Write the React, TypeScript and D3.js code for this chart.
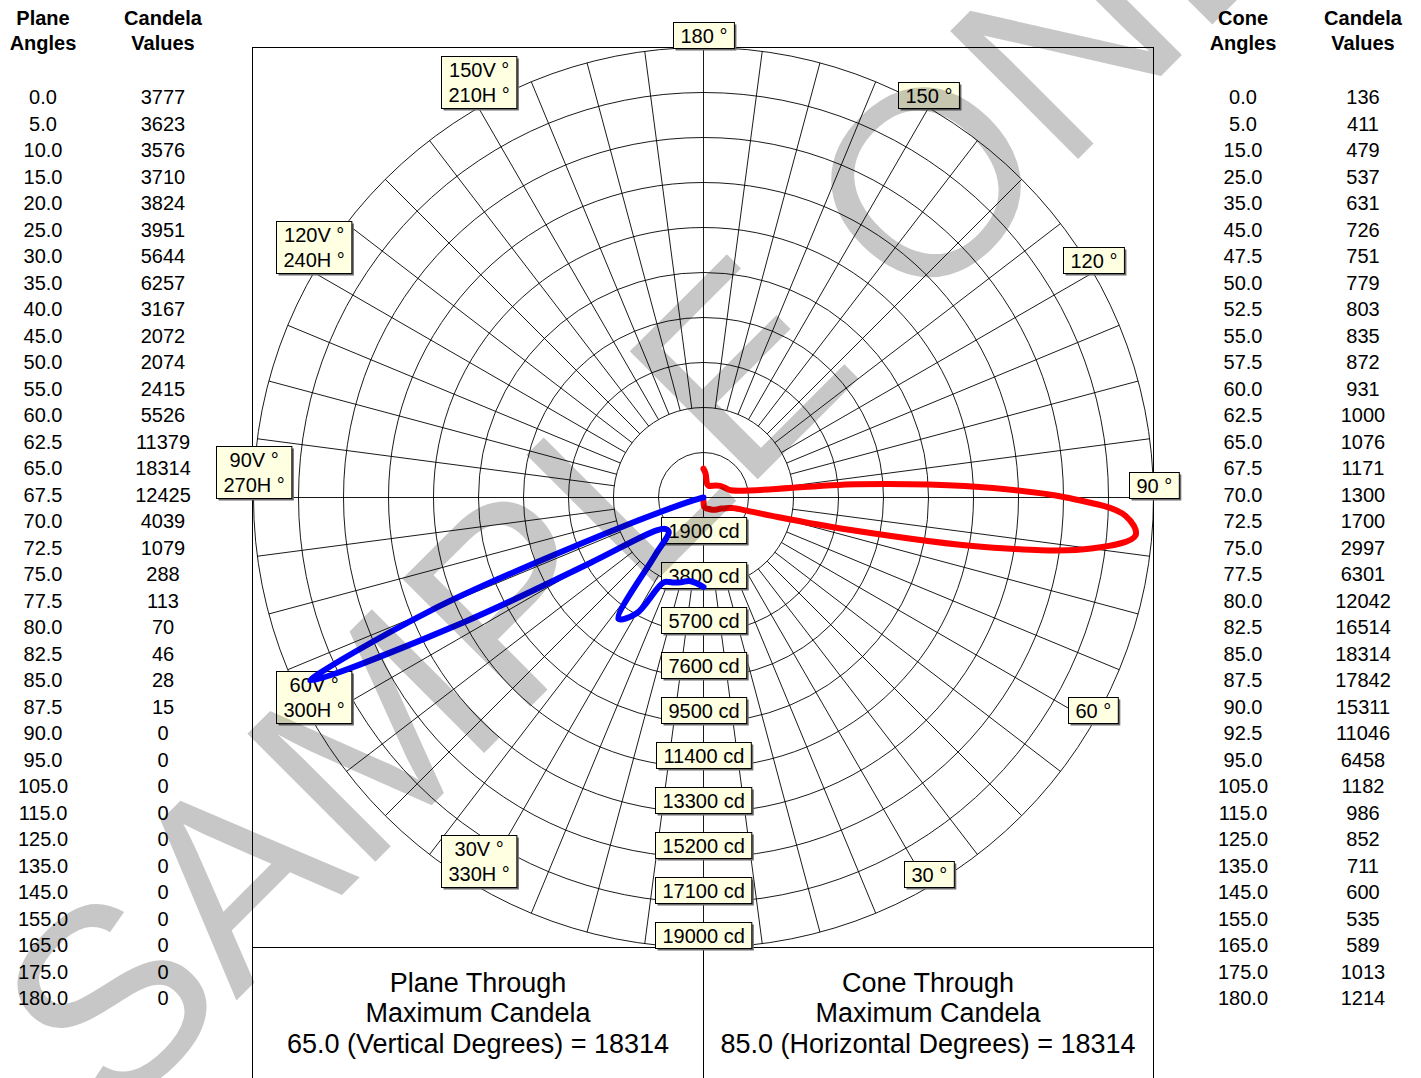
import React from 'react';
import * as d3 from 'd3';

// plane through maximum candela (vertical angles)
const planeAngles = [0, 5, 10, 15, 20, 25, 30, 35, 40, 45, 50, 55, 60, 62.5, 65, 67.5, 70, 72.5, 75, 77.5, 80, 82.5, 85, 87.5, 90, 95, 105, 115, 125, 135, 145, 155, 165, 175, 180];
const planeCandela = [3777, 3623, 3576, 3710, 3824, 3951, 5644, 6257, 3167, 2072, 2074, 2415, 5526, 11379, 18314, 12425, 4039, 1079, 288, 113, 70, 46, 28, 15, 0, 0, 0, 0, 0, 0, 0, 0, 0, 0, 0];

// cone through maximum candela (horizontal angles)
const coneAngles = [0, 5, 15, 25, 35, 45, 47.5, 50, 52.5, 55, 57.5, 60, 62.5, 65, 67.5, 70, 72.5, 75, 77.5, 80, 82.5, 85, 87.5, 90, 92.5, 95, 105, 115, 125, 135, 145, 155, 165, 175, 180];
const coneCandela = [136, 411, 479, 537, 631, 726, 751, 779, 803, 835, 872, 931, 1000, 1076, 1171, 1300, 1700, 2997, 6301, 12042, 16514, 18314, 17842, 15311, 11046, 6458, 1182, 986, 852, 711, 600, 535, 589, 1013, 1214];

const ringValues = [1900, 3800, 5700, 7600, 9500, 11400, 13300, 15200, 17100, 19000];
const rightLabelAngles = [30, 60, 90, 120, 150, 180];
const leftLabelAngles = [30, 60, 90, 120, 150];

const FONT = "'Liberation Sans', Arial, sans-serif";
const W = 1421;
const H = 1078;
const cx = 703.5;
const cy = 497.5;
const R = 450;

const r = d3.scaleLinear().domain([0, 19000]).range([0, R]);
// angles in lineRadial convention (clockwise from 12 o'clock)
const planeAngle = (deg: number) => Math.PI + (deg * Math.PI) / 180;
const coneAngle = (deg: number) => Math.PI - (deg * Math.PI) / 180;

let ctx: CanvasRenderingContext2D | null = null;
const measure = (s: string, size = 20) => {
  if (!ctx) ctx = document.createElement('canvas').getContext('2d');
  if (!ctx) return s.length * size * 0.55;
  ctx.font = `${size}px ${FONT}`;
  return ctx.measureText(s).width;
};

const Tag = ({ x, y, lines }: { x: number; y: number; lines: string[] }) => {
  const w = Math.max(...lines.map((l) => measure(l))) + 14;
  const h = 26 * lines.length;
  const left = Math.round(x - w / 2) + 0.5;
  const top = Math.round(y - h) + 0.5;
  return (
    <g>
      <rect x={left + 2} y={top + 2} width={w} height={h} fill="#6b6b6b" />
      <rect x={left} y={top} width={w} height={h} fill="#ffffe1" stroke="#000" strokeWidth={1} />
      {lines.map((l, i) => (
        <text key={i} x={left + w / 2} y={top + 20 + i * 25} textAnchor="middle" fontSize={20} fontFamily={FONT}>
          {l}
        </text>
      ))}
    </g>
  );
};

const Table = ({ x1, x2, head1, angles, values }: { x1: number; x2: number; head1: string; angles: number[]; values: number[] }) => (
  <g fontFamily={FONT} textAnchor="middle">
    <text x={x1} y={25} fontSize={20} fontWeight="bold">{head1}</text>
    <text x={x1} y={50} fontSize={20} fontWeight="bold">Angles</text>
    <text x={x2} y={25} fontSize={20} fontWeight="bold">Candela</text>
    <text x={x2} y={50} fontSize={20} fontWeight="bold">Values</text>
    {angles.map((a, i) => (
      <g key={i} fontSize={20}>
        <text x={x1} y={104 + i * 26.5}>{a.toFixed(1)}</text>
        <text x={x2} y={104 + i * 26.5}>{values[i]}</text>
      </g>
    ))}
  </g>
);

export default function App() {
  const planePts = planeAngles.map((a, i) => [a, planeCandela[i]] as [number, number]);
  const conePts = coneAngles.map((a, i) => [a, coneCandela[i]] as [number, number]);

  const planeLine = d3
    .lineRadial<[number, number]>()
    .angle((d) => planeAngle(d[0]))
    .radius((d) => r(d[1]))
    .curve(d3.curveCatmullRom);
  const coneLine = d3
    .lineRadial<[number, number]>()
    .angle((d) => coneAngle(d[0]))
    .radius((d) => r(d[1]))
    .curve(d3.curveCatmullRom);

  const spokes = d3.range(0, 360, 7.5).filter((a) => a % 90 !== 0);
  const pos = (ang: number) => [cx + R * Math.sin(ang), cy - R * Math.cos(ang)];

  return (
    <svg width={W} height={H} style={{ position: 'absolute', left: 0, top: 0, background: '#fff' }}>
      <rect width={W} height={H} fill="#fff" />

      <Table x1={43} x2={163} head1="Plane" angles={planeAngles} values={planeCandela} />
      <Table x1={1243} x2={1363} head1="Cone" angles={coneAngles} values={coneCandela} />

      {/* frame */}
      <rect x={252.5} y={47.5} width={901} height={1100} fill="none" stroke="#000" strokeWidth={1} />
      <line x1={252.5} x2={1153.5} y1={947.5} y2={947.5} stroke="#000" />
      <line x1={cx} x2={cx} y1={947.5} y2={H} stroke="#000" />

      {/* polar grid */}
      <g transform={`translate(${cx},${cy})`} stroke="#000" strokeWidth={0.9} fill="none">
        {ringValues.map((v) => (
          <circle key={v} r={r(v)} />
        ))}
        {spokes.map((a) => {
          const t = (a * Math.PI) / 180;
          return (
            <line key={a} x1={r(3800) * Math.sin(t)} y1={-r(3800) * Math.cos(t)} x2={R * Math.sin(t)} y2={-R * Math.cos(t)} />
          );
        })}
        <line x1={-R} x2={R} y1={0} y2={0} />
        <line x1={0} x2={0} y1={-R} y2={R} />
      </g>

      {/* labels */}
      {rightLabelAngles.map((a) => {
        const [x, y] = pos(coneAngle(a));
        return <Tag key={'r' + a} x={x} y={y} lines={[`${a} °`]} />;
      })}
      {leftLabelAngles.map((a) => {
        const [x, y] = pos(planeAngle(a));
        return <Tag key={'l' + a} x={x} y={y} lines={[`${a}V °`, `${360 - a}H °`]} />;
      })}
      {ringValues.map((v) => (
        <Tag key={'c' + v} x={cx} y={cy + r(v)} lines={[`${v} cd`]} />
      ))}

      {/* curves */}
      <g transform={`translate(${cx},${cy})`} fill="none" strokeWidth={6} strokeLinejoin="round" strokeLinecap="round">
        <path d={coneLine(conePts) || ''} stroke="#ff0000" />
        <path d={planeLine(planePts) || ''} stroke="#0000ff" />
      </g>

      {/* summary */}
      <g fontFamily={FONT} fontSize={27} textAnchor="middle">
        <text x={478} y={992}>Plane Through</text>
        <text x={478} y={1022}>Maximum Candela</text>
        <text x={478} y={1053}>65.0 (Vertical Degrees) = 18314</text>
        <text x={928} y={992}>Cone Through</text>
        <text x={928} y={1022}>Maximum Candela</text>
        <text x={928} y={1053}>85.0 (Horizontal Degrees) = 18314</text>
      </g>

      {/* watermark */}
      <text
        transform="translate(112,1125) rotate(-45)"
        fontFamily={FONT}
        fontSize={263}
        fill="#000"
        fillOpacity={0.22}
        style={{ pointerEvents: 'none' }}
      >
        SAMPLE ONLY
      </text>
    </svg>
  );
}
